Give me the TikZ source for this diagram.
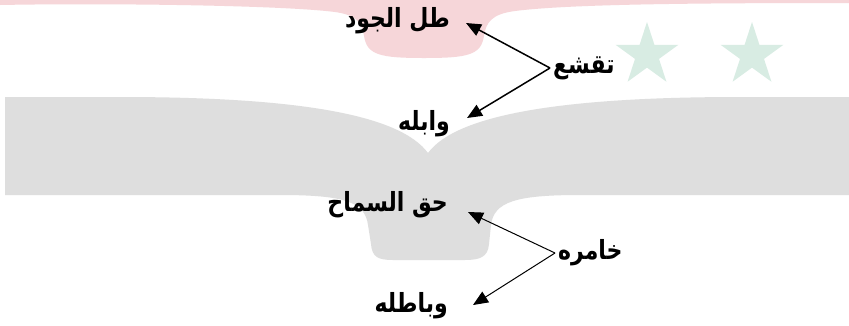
\documentclass[tikz,border=0pt]{standalone}
\usepackage{fontspec}
\usetikzlibrary{arrows.meta,calc}
\TeXXeTstate=1
\newfontfamily\arabicfont[Script=Arabic]{DejaVu Sans}
\newcommand{\artxt}[1]{\scalebox{1}[1.2]{\beginR #1\endR}}
\definecolor{bookgray}{HTML}{DEDEDE}
\definecolor{flagred}{HTML}{F6D6D9}
\definecolor{flaggreen}{HTML}{D8ECE3}
\begin{document}
\begin{tikzpicture}[x=1pt,y=-1pt,
  word/.style={font=\arabicfont\bfseries\fontsize{22}{24}\selectfont, inner sep=0pt, anchor=east},
  lbl/.style={font=\arabicfont\bfseries\fontsize{22}{24}\selectfont, inner xsep=3pt, inner ysep=0pt, anchor=west},
  linkA/.style={-{Triangle[length=15pt,width=12.5pt]}, line width=1.5pt},
  linkB/.style={-{Triangle[length=15pt,width=12.5pt]}, line width=1pt}]
\useasboundingbox (0,0) rectangle (849,325);
\fill[white] (0,0) rectangle (849,325);
% red stripe of the watermark
\fill[flagred] (0,0) -- (849,0) -- (849,3)
  .. controls (700,3) and (570,4) .. (515,11)
  .. controls (492,14) and (486,22) .. (484,36)
  .. controls (481,55) and (468,58) .. (424,58)
  .. controls (380,58) and (367,55) .. (364,36)
  .. controls (362,22) and (356,15) .. (335,12)
  .. controls (280,5) and (100,3) .. (0,5) -- cycle;
% grey book
\fill[bookgray] (5,97) -- (120,97)
  .. controls (300,97) and (400,115) .. (428,153)
  .. controls (456,115) and (560,97) .. (740,97)
  -- (849,97) -- (849,195) -- (580,195)
  .. controls (515,195) and (494,202) .. (491,225)
  -- (489,244) .. controls (488,257) and (480,260) .. (465,260)
  -- (393,260) .. controls (378,260) and (372,257) .. (371,244)
  -- (368,225) .. controls (365,202) and (345,195) .. (280,195)
  -- (5,195) -- cycle;
% green stars
\begin{scope}[shift={(647,55)}]
\fill[flaggreen] (-90:33) -- (-54:12.6) -- (-18:33) -- (18:12.6) -- (54:33) -- (90:12.6)
  -- (126:33) -- (162:12.6) -- (198:33) -- (234:12.6) -- cycle;
\end{scope}
\begin{scope}[shift={(752,55)}]
\fill[flaggreen] (-90:33) -- (-54:12.6) -- (-18:33) -- (18:12.6) -- (54:33) -- (90:12.6)
  -- (126:33) -- (162:12.6) -- (198:33) -- (234:12.6) -- cycle;
\end{scope}
% texts
\node[word] (w1) at (450,21) {\artxt{طل الجود}};
\node[word] (w2) at (450,124) {\artxt{وابله}};
\node[lbl] (l1) at (550,68) {\artxt{تقشع}};
\node[word] (w3) at (448,205) {\artxt{حق السماح}};
\node[word] (w4) at (448,306) {\artxt{وباطله}};
\node[lbl] (l2) at (555,253) {\artxt{خامره}};
% connectors
\draw[linkA] (l1.west) -- ([shift={(16,2)}]w1.east);
\draw[linkA] (l1.west) -- ([shift={(17,-6)}]w2.east);
\draw[linkB] (l2.west) -- ([shift={(20,7)}]w3.east);
\draw[linkB] (l2.west) -- ([shift={(25,-1)}]w4.east);
\end{tikzpicture}
\end{document}
